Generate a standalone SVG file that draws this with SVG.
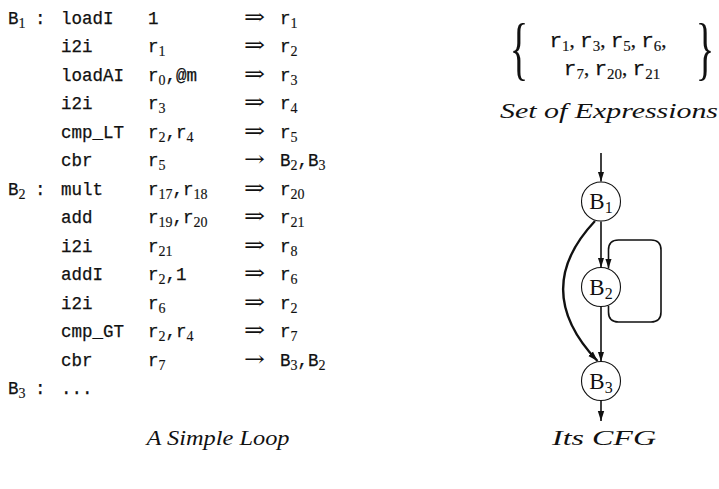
<svg xmlns="http://www.w3.org/2000/svg" width="719" height="489" viewBox="0 0 719 489">
<style>
.tt{font-family:"Liberation Mono","DejaVu Sans Mono",monospace;font-size:17.5px;fill:#111;stroke:#111;stroke-width:0.25}
.sub{font-family:"Liberation Serif","DejaVu Serif",serif;font-size:14px;stroke-width:0.15}
.ar{font-family:"DejaVu Serif","DejaVu Sans",serif;font-size:21px;fill:#111}
.rm{font-family:"Liberation Serif","DejaVu Serif",serif;font-size:23px;fill:#111}
.cap{font-family:"Liberation Serif","DejaVu Serif",serif;font-style:italic;font-size:22px;fill:#111}
.node circle{fill:#fff;stroke:#111;stroke-width:1.1}
.edge{fill:none;stroke:#111;stroke-width:1.6}
</style>
<defs>
<marker id="ah" markerUnits="userSpaceOnUse" markerWidth="12" markerHeight="8" refX="10" refY="4" orient="auto">
<path d="M0,0.8 L10,4 L0,7.2 Z" fill="#111"/>
</marker>
</defs>

<g id="code">
<text class="tt" x="8" y="24">B<tspan class="sub" dy="4">1</tspan></text><text class="tt" x="35" y="24">:</text>
<text class="tt" x="61" y="24">loadI</text>
<text class="tt" x="148" y="24">1</text>
<text class="ar" x="244" y="24" textLength="21" lengthAdjust="spacingAndGlyphs">⇒</text>
<text class="tt" x="280" y="24">r<tspan class="sub" dy="4">1</tspan></text>

<text class="tt" x="61" y="52">i2i</text>
<text class="tt" x="148" y="52">r<tspan class="sub" dy="4">1</tspan></text>
<text class="ar" x="244" y="52" textLength="21" lengthAdjust="spacingAndGlyphs">⇒</text>
<text class="tt" x="280" y="52">r<tspan class="sub" dy="4">2</tspan></text>

<text class="tt" x="61" y="81">loadAI</text>
<text class="tt" x="148" y="81">r<tspan class="sub" dy="4">0</tspan><tspan dy="-4">,@m</tspan></text>
<text class="ar" x="244" y="81" textLength="21" lengthAdjust="spacingAndGlyphs">⇒</text>
<text class="tt" x="280" y="81">r<tspan class="sub" dy="4">3</tspan></text>

<text class="tt" x="61" y="109">i2i</text>
<text class="tt" x="148" y="109">r<tspan class="sub" dy="4">3</tspan></text>
<text class="ar" x="244" y="109" textLength="21" lengthAdjust="spacingAndGlyphs">⇒</text>
<text class="tt" x="280" y="109">r<tspan class="sub" dy="4">4</tspan></text>

<text class="tt" x="61" y="138">cmp_LT</text>
<text class="tt" x="148" y="138">r<tspan class="sub" dy="4">2</tspan><tspan dy="-4">,r</tspan><tspan class="sub" dy="4">4</tspan></text>
<text class="ar" x="244" y="138" textLength="21" lengthAdjust="spacingAndGlyphs">⇒</text>
<text class="tt" x="280" y="138">r<tspan class="sub" dy="4">5</tspan></text>

<text class="tt" x="61" y="166">cbr</text>
<text class="tt" x="148" y="166">r<tspan class="sub" dy="4">5</tspan></text>
<text class="ar" x="244" y="166" textLength="21" lengthAdjust="spacingAndGlyphs">→</text>
<text class="tt" x="280" y="166">B<tspan class="sub" dy="4">2</tspan><tspan dy="-4">,B</tspan><tspan class="sub" dy="4">3</tspan></text>

<text class="tt" x="8" y="195">B<tspan class="sub" dy="4">2</tspan></text><text class="tt" x="35" y="195">:</text>
<text class="tt" x="61" y="195">mult</text>
<text class="tt" x="148" y="195">r<tspan class="sub" dy="4">17</tspan><tspan dy="-4">,r</tspan><tspan class="sub" dy="4">18</tspan></text>
<text class="ar" x="244" y="195" textLength="21" lengthAdjust="spacingAndGlyphs">⇒</text>
<text class="tt" x="280" y="195">r<tspan class="sub" dy="4">20</tspan></text>

<text class="tt" x="61" y="223">add</text>
<text class="tt" x="148" y="223">r<tspan class="sub" dy="4">19</tspan><tspan dy="-4">,r</tspan><tspan class="sub" dy="4">20</tspan></text>
<text class="ar" x="244" y="223" textLength="21" lengthAdjust="spacingAndGlyphs">⇒</text>
<text class="tt" x="280" y="223">r<tspan class="sub" dy="4">21</tspan></text>

<text class="tt" x="61" y="252">i2i</text>
<text class="tt" x="148" y="252">r<tspan class="sub" dy="4">21</tspan></text>
<text class="ar" x="244" y="252" textLength="21" lengthAdjust="spacingAndGlyphs">⇒</text>
<text class="tt" x="280" y="252">r<tspan class="sub" dy="4">8</tspan></text>

<text class="tt" x="61" y="280">addI</text>
<text class="tt" x="148" y="280">r<tspan class="sub" dy="4">2</tspan><tspan dy="-4">,1</tspan></text>
<text class="ar" x="244" y="280" textLength="21" lengthAdjust="spacingAndGlyphs">⇒</text>
<text class="tt" x="280" y="280">r<tspan class="sub" dy="4">6</tspan></text>

<text class="tt" x="61" y="309">i2i</text>
<text class="tt" x="148" y="309">r<tspan class="sub" dy="4">6</tspan></text>
<text class="ar" x="244" y="309" textLength="21" lengthAdjust="spacingAndGlyphs">⇒</text>
<text class="tt" x="280" y="309">r<tspan class="sub" dy="4">2</tspan></text>

<text class="tt" x="61" y="337">cmp_GT</text>
<text class="tt" x="148" y="337">r<tspan class="sub" dy="4">2</tspan><tspan dy="-4">,r</tspan><tspan class="sub" dy="4">4</tspan></text>
<text class="ar" x="244" y="337" textLength="21" lengthAdjust="spacingAndGlyphs">⇒</text>
<text class="tt" x="280" y="337">r<tspan class="sub" dy="4">7</tspan></text>

<text class="tt" x="61" y="366">cbr</text>
<text class="tt" x="148" y="366">r<tspan class="sub" dy="4">7</tspan></text>
<text class="ar" x="244" y="366" textLength="21" lengthAdjust="spacingAndGlyphs">→</text>
<text class="tt" x="280" y="366">B<tspan class="sub" dy="4">3</tspan><tspan dy="-4">,B</tspan><tspan class="sub" dy="4">2</tspan></text>

<text class="tt" x="8" y="394">B<tspan class="sub" dy="4">3</tspan></text><text class="tt" x="35" y="394">:</text>
<text class="tt" x="61" y="394">...</text>
<text class="cap" x="218" y="445" text-anchor="middle" textLength="143" lengthAdjust="spacingAndGlyphs">A Simple Loop</text>
</g>

<g id="expressions">
<text class="rm" transform="translate(519,72) scale(0.55,1)" text-anchor="middle" style="font-size:70px">{</text>
<text class="rm" transform="translate(705,72) scale(0.55,1)" text-anchor="middle" style="font-size:70px">}</text>
<text class="tt" x="608" y="47" text-anchor="middle" style="font-size:21px">r<tspan class="sub" dy="4" style="font-size:15px">1</tspan><tspan class="rm" dy="-4" style="font-size:21px">, </tspan>r<tspan class="sub" dy="4" style="font-size:15px">3</tspan><tspan class="rm" dy="-4" style="font-size:21px">, </tspan>r<tspan class="sub" dy="4" style="font-size:15px">5</tspan><tspan class="rm" dy="-4" style="font-size:21px">, </tspan>r<tspan class="sub" dy="4" style="font-size:15px">6</tspan><tspan class="rm" dy="-4" style="font-size:21px">,</tspan></text>
<text class="tt" x="612" y="75" text-anchor="middle" style="font-size:21px">r<tspan class="sub" dy="4" style="font-size:15px">7</tspan><tspan class="rm" dy="-4" style="font-size:21px">, </tspan>r<tspan class="sub" dy="4" style="font-size:15px">20</tspan><tspan class="rm" dy="-4" style="font-size:21px">, </tspan>r<tspan class="sub" dy="4" style="font-size:15px">21</tspan></text>
<text class="cap" x="609" y="118" text-anchor="middle" textLength="218" lengthAdjust="spacingAndGlyphs">Set of Expressions</text>
</g>

<g id="connectors">
<line class="edge" x1="601" y1="153" x2="601" y2="181.5" marker-end="url(#ah)"/>
<line class="edge" x1="601" y1="221.5" x2="601" y2="267.5" marker-end="url(#ah)"/>
<line class="edge" x1="601" y1="306.5" x2="601" y2="361.5" marker-end="url(#ah)"/>
<line class="edge" x1="601" y1="400.5" x2="601" y2="421" marker-end="url(#ah)"/>
<path class="edge" style="stroke-width:2.3" d="M595,221 Q530,290 597.5,361" marker-end="url(#ah)"/>
<path class="edge" d="M608.5,306 L608.5,312 Q608.5,322 618.5,322 L651,322 Q661,322 661,312 L661,250 Q661,240 651,240 L618.5,240 Q608.5,240 608.5,250 L608.5,268.5" marker-end="url(#ah)"/>
</g>

<g id="B1" class="node">
<circle cx="601" cy="201.5" r="19.5"/>
<text class="rm" x="601" y="209" text-anchor="middle">B<tspan class="sub" dy="4" style="font-size:16px">1</tspan></text>
</g>
<g id="B2" class="node">
<circle cx="601" cy="287" r="19.5"/>
<text class="rm" x="601" y="294.5" text-anchor="middle">B<tspan class="sub" dy="4" style="font-size:16px">2</tspan></text>
</g>
<g id="B3" class="node">
<circle cx="601" cy="381" r="19.5"/>
<text class="rm" x="601" y="388.5" text-anchor="middle">B<tspan class="sub" dy="4" style="font-size:16px">3</tspan></text>
</g>
<text class="cap" x="604" y="445" text-anchor="middle" textLength="104" lengthAdjust="spacingAndGlyphs">Its CFG</text>
</svg>
